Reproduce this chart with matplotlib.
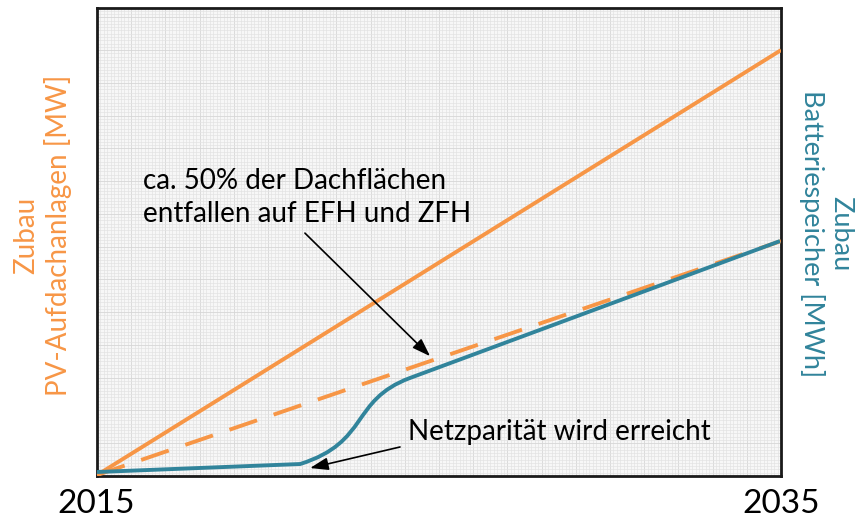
import numpy as np
import matplotlib.pyplot as plt
from matplotlib.ticker import MultipleLocator
from matplotlib.path import Path
from matplotlib.patches import PathPatch

# years since 2015, arbitrary capacity units (0..100 = axis height)
pv_x = [0, 20]
pv_y = [0.2, 91.0]

half_x = [0, 20]
half_y = [0.2, 50.2]

# battery curve: flat start, S-shaped rise (bezier control points), linear tail
bat_x = [0, 5.94, 7.98, 7.40, 9.15, 19.97]
bat_y = [0.85, 2.56, 7.27, 16.17, 20.94, 50.2]
bat_codes = [Path.MOVETO, Path.LINETO, Path.CURVE4, Path.CURVE4, Path.CURVE4, Path.LINETO]

year_labels = ['2015', '2035']

orange = '#F79646'
teal = '#31849B'

plt.rcParams['font.family'] = ['Lato', 'DejaVu Sans']

fig = plt.figure(figsize=(8.55, 5.19), dpi=100)
ax = fig.add_axes([97 / 855, 43 / 519, 684 / 855, 468 / 519])
ax.set_facecolor('#f7f7f7')
ax.set_xlim(0, 20)
ax.set_ylim(0, 100)

ax.xaxis.set_minor_locator(MultipleLocator(0.1))
ax.yaxis.set_minor_locator(MultipleLocator(0.7))
ax.xaxis.set_major_locator(MultipleLocator(1))
ax.yaxis.set_major_locator(MultipleLocator(7))
ax.grid(which='minor', color='#e3e3e3', linewidth=0.5)
ax.grid(which='major', color='#d6d6d6', linewidth=0.6)
ax.tick_params(which='both', length=0, labelbottom=False, labelleft=False)
for s in ax.spines.values():
    s.set_linewidth(2)
    s.set_color('#1a1a1a')

ax.plot(pv_x, pv_y, color=orange, lw=2.8, solid_capstyle='butt', zorder=3)
ax.plot(half_x, half_y, color=orange, lw=2.8, dashes=(7.5, 4.5), zorder=3)
bat_path = Path(np.column_stack([bat_x, bat_y]), bat_codes)
ax.add_patch(PathPatch(bat_path, facecolor='none', edgecolor=teal, lw=2.8, zorder=4))

arrow = dict(arrowstyle='-|>,head_length=1.1,head_width=0.38',
             color='black', lw=1.2, shrinkA=0, shrinkB=0)
ax.text(1.35, 59.5, 'ca. 50% der Dachflächen\nentfallen auf EFH und ZFH',
        fontsize=20, ha='left', va='center', linespacing=1.3, zorder=5)
ax.annotate('', xy=(9.74, 25.6), xytext=(6.08, 51.9), arrowprops=arrow, zorder=5)
ax.annotate('', xy=(6.23, 1.7), xytext=(8.86, 6.2), arrowprops=arrow, zorder=5)
ax.text(9.1, 9.4, 'Netzparität wird erreicht', fontsize=20, ha='left',
        va='center', zorder=5)

fig.text(96 / 855, 1 - 504 / 519, year_labels[0], fontsize=24, ha='center', va='center')
fig.text(781 / 855, 1 - 504 / 519, year_labels[1], fontsize=24, ha='center', va='center')

fig.text(43 / 855, 1 - 235 / 519, 'Zubau\nPV-Aufdachanlagen [MW]', color=orange,
         fontsize=20, rotation=90, ha='center', va='center', linespacing=1.2)
fig.text(826 / 855, 1 - 234 / 519, 'Zubau\nBatteriespeicher [MWh]', color=teal,
         fontsize=19.5, rotation=270, ha='center', va='center', linespacing=1.15)

fig.savefig('out.png', dpi=100)
